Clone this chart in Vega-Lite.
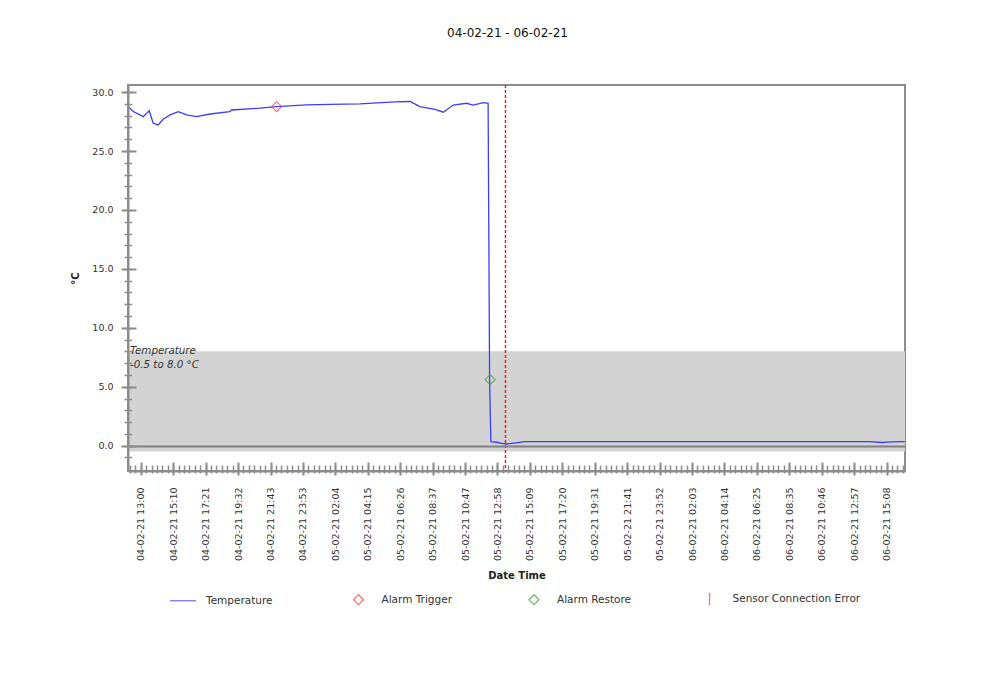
{
  "$schema": "https://vega.github.io/schema/vega-lite/v6.json",
  "width": 777,
  "height": 386,
  "autosize": {"type": "none"},
  "padding": {"left": 128, "top": 85, "right": 85, "bottom": 225},
  "background": "white",
  "title": {"text": "04-02-21 - 06-02-21", "anchor": "middle", "dx": -9, "offset": 48, "dy": 13, "baseline": "alphabetic", "fontSize": 12, "fontWeight": "normal", "font": "DejaVu Sans", "color": "#111111"},
  "datasets": {
    "band": [{"lo": -0.5, "hi": 8.0, "label": "Temperature\n-0.5 to 8.0 °C"}],
    "temperature": [
      {"t": "2021-02-04T12:09:00", "v": 28.75, "series": "Temperature"},
      {"t": "2021-02-04T12:30:00", "v": 28.35, "series": "Temperature"},
      {"t": "2021-02-04T13:10:00", "v": 27.92, "series": "Temperature"},
      {"t": "2021-02-04T13:34:00", "v": 28.42, "series": "Temperature"},
      {"t": "2021-02-04T13:50:00", "v": 27.35, "series": "Temperature"},
      {"t": "2021-02-04T14:10:00", "v": 27.21, "series": "Temperature"},
      {"t": "2021-02-04T14:30:00", "v": 27.69, "series": "Temperature"},
      {"t": "2021-02-04T14:58:00", "v": 28.06, "series": "Temperature"},
      {"t": "2021-02-04T15:31:00", "v": 28.34, "series": "Temperature"},
      {"t": "2021-02-04T16:05:00", "v": 28.06, "series": "Temperature"},
      {"t": "2021-02-04T16:45:00", "v": 27.92, "series": "Temperature"},
      {"t": "2021-02-04T17:39:00", "v": 28.14, "series": "Temperature"},
      {"t": "2021-02-04T18:59:00", "v": 28.34, "series": "Temperature"},
      {"t": "2021-02-04T19:06:00", "v": 28.48, "series": "Temperature"},
      {"t": "2021-02-04T21:01:00", "v": 28.63, "series": "Temperature"},
      {"t": "2021-02-04T22:08:00", "v": 28.76, "series": "Temperature"},
      {"t": "2021-02-05T00:09:00", "v": 28.91, "series": "Temperature"},
      {"t": "2021-02-05T01:43:00", "v": 28.95, "series": "Temperature"},
      {"t": "2021-02-05T03:44:00", "v": 29.0, "series": "Temperature"},
      {"t": "2021-02-05T06:05:00", "v": 29.16, "series": "Temperature"},
      {"t": "2021-02-05T07:06:00", "v": 29.2, "series": "Temperature"},
      {"t": "2021-02-05T07:46:00", "v": 28.76, "series": "Temperature"},
      {"t": "2021-02-05T08:47:00", "v": 28.54, "series": "Temperature"},
      {"t": "2021-02-05T09:20:00", "v": 28.29, "series": "Temperature"},
      {"t": "2021-02-05T10:00:00", "v": 28.9, "series": "Temperature"},
      {"t": "2021-02-05T10:54:00", "v": 29.05, "series": "Temperature"},
      {"t": "2021-02-05T11:21:00", "v": 28.9, "series": "Temperature"},
      {"t": "2021-02-05T12:01:00", "v": 29.1, "series": "Temperature"},
      {"t": "2021-02-05T12:21:00", "v": 29.05, "series": "Temperature"},
      {"t": "2021-02-05T12:27:00", "v": 5.57, "series": "Temperature"},
      {"t": "2021-02-05T12:32:00", "v": 0.34, "series": "Temperature"},
      {"t": "2021-02-05T12:56:00", "v": 0.29, "series": "Temperature"},
      {"t": "2021-02-05T13:16:00", "v": 0.2, "series": "Temperature"},
      {"t": "2021-02-05T13:36:00", "v": 0.14, "series": "Temperature"},
      {"t": "2021-02-05T13:56:00", "v": 0.2, "series": "Temperature"},
      {"t": "2021-02-05T14:50:00", "v": 0.34, "series": "Temperature"},
      {"t": "2021-02-05T17:00:00", "v": 0.35, "series": "Temperature"},
      {"t": "2021-02-05T20:00:00", "v": 0.35, "series": "Temperature"},
      {"t": "2021-02-05T23:00:00", "v": 0.35, "series": "Temperature"},
      {"t": "2021-02-06T02:00:00", "v": 0.35, "series": "Temperature"},
      {"t": "2021-02-06T05:00:00", "v": 0.35, "series": "Temperature"},
      {"t": "2021-02-06T08:00:00", "v": 0.35, "series": "Temperature"},
      {"t": "2021-02-06T11:00:00", "v": 0.35, "series": "Temperature"},
      {"t": "2021-02-06T14:00:00", "v": 0.35, "series": "Temperature"},
      {"t": "2021-02-06T14:50:00", "v": 0.27, "series": "Temperature"},
      {"t": "2021-02-06T15:10:00", "v": 0.3, "series": "Temperature"},
      {"t": "2021-02-06T16:00:00", "v": 0.34, "series": "Temperature"},
      {"t": "2021-02-06T16:22:00", "v": 0.34, "series": "Temperature"}
    ],
    "alarms": [
      {"t": "2021-02-04T22:08:00", "v": 28.76, "series": "Alarm Trigger"},
      {"t": "2021-02-05T12:29:00", "v": 5.6, "series": "Alarm Restore"}
    ],
    "sensor": [
      {"t": "2021-02-05T13:31:00", "series": "Sensor Connection Error"}
    ]
  },
  "layer": [
    {
      "data": {"name": "band"},
      "mark": {"type": "rect", "color": "#d3d3d3"},
      "encoding": {
        "y": {"field": "lo", "type": "quantitative", "scale": {"domain": [-2.15, 30.6], "nice": false, "zero": false},
          "axis": {"orient": "left", "values": [0, 5, 10, 15, 20, 25, 30], "format": ".1f", "ticks": false, "labelPadding": 15, "domain": true, "title": "°C", "titlePadding": 11, "zindex": 1}},
        "y2": {"field": "hi"}
      }
    },
    {
      "data": {"name": "temperature"},
      "mark": {"type": "line", "strokeWidth": 1.3},
      "encoding": {
        "x": {"field": "t", "type": "temporal",
          "scale": {"domain": [{"year": 2021, "month": 2, "date": 4, "hours": 12, "minutes": 8, "seconds": 20}, {"year": 2021, "month": 2, "date": 6, "hours": 16, "minutes": 22, "seconds": 40}], "nice": false},
          "axis": {"orient": "bottom", "values": {"expr": "sequence(datetime(2021,1,4,13,0,1,800), datetime(2021,1,6,15,9,0,0), 7847400)"}, "format": "%d-%m-%y %H:%M", "labelAngle": 270, "ticks": false, "labelPadding": 16, "labelFlush": false, "labelOverlap": false, "domain": true, "title": "Date Time", "titlePadding": 10, "zindex": 1}},
        "y": {"field": "v", "type": "quantitative", "scale": {"domain": [-2.15, 30.6], "nice": false, "zero": false},
          "axis": {"orient": "left", "values": [0, 5, 10, 15, 20, 25, 30], "labels": false, "domain": false, "ticks": true, "tickSize": 15, "offset": -8, "tickWidth": 2, "title": null, "zindex": 1}},
        "color": {"field": "series", "type": "nominal",
          "scale": {"domain": ["Temperature", "Alarm Trigger", "Alarm Restore", "Sensor Connection Error"], "range": ["#3c3cff", "#ff3c3c", "#3c9c3c", "#f03030"]},
          "legend": {"title": null}}
      }
    },
    {
      "data": {"name": "alarms"},
      "mark": {"type": "point", "filled": false, "size": 100, "strokeWidth": 1.2},
      "encoding": {
        "x": {"field": "t", "type": "temporal",
          "scale": {"domain": [{"year": 2021, "month": 2, "date": 4, "hours": 12, "minutes": 8, "seconds": 20}, {"year": 2021, "month": 2, "date": 6, "hours": 16, "minutes": 22, "seconds": 40}], "nice": false},
          "axis": {"orient": "bottom", "values": {"expr": "sequence(datetime(2021,1,4,13,0,1,800), datetime(2021,1,6,15,9,0,0), 7847400)"}, "labels": false, "domain": false, "ticks": true, "tickSize": 13, "offset": -9, "tickWidth": 2, "title": null, "zindex": 1}},
        "y": {"field": "v", "type": "quantitative", "scale": {"domain": [-2.15, 30.6], "nice": false, "zero": false},
          "axis": {"orient": "left", "values": [-1, 0, 1, 2, 3, 4, 5, 6, 7, 8, 9, 10, 11, 12, 13, 14, 15, 16, 17, 18, 19, 20, 21, 22, 23, 24, 25, 26, 27, 28, 29, 30], "labels": false, "domain": false, "ticks": true, "tickSize": 7.5, "offset": -3.5, "tickWidth": 1.5, "title": null, "zindex": 1}},
        "color": {"field": "series", "type": "nominal",
          "scale": {"domain": ["Temperature", "Alarm Trigger", "Alarm Restore", "Sensor Connection Error"], "range": ["#3c3cff", "#ff3c3c", "#3c9c3c", "#f03030"]},
          "legend": {"title": null}},
        "shape": {"field": "series", "type": "nominal",
          "scale": {"domain": ["Temperature", "Alarm Trigger", "Alarm Restore", "Sensor Connection Error"], "range": ["M-2.6,0L2.6,0", "diamond", "diamond", "M0,-1.25L0,1.25"]},
          "legend": {"title": null}}
      }
    },
    {
      "data": {"name": "sensor"},
      "mark": {"type": "rule", "strokeDash": [3, 2], "strokeWidth": 1.4, "stroke": "#ff1010", "strokeOpacity": 1},
      "encoding": {
        "x": {"field": "t", "type": "temporal",
          "scale": {"domain": [{"year": 2021, "month": 2, "date": 4, "hours": 12, "minutes": 8, "seconds": 20}, {"year": 2021, "month": 2, "date": 6, "hours": 16, "minutes": 22, "seconds": 40}], "nice": false},
          "axis": {"orient": "bottom", "values": {"expr": "sequence(datetime(2021,1,4,12,16,26,0), datetime(2021,1,6,16,20,0,0), 1307900)"}, "labels": false, "domain": false, "ticks": true, "tickSize": 8, "offset": -6, "tickWidth": 1.5, "title": null, "zindex": 1}}
      }
    },
    {
      "data": {"name": "band"},
      "mark": {"type": "text", "align": "left", "baseline": "middle", "dx": 2, "fontStyle": "italic", "fontSize": 10.3, "font": "DejaVu Sans", "lineBreak": "\n", "lineHeight": 14, "color": "#333333"},
      "encoding": {
        "x": {"datum": {"year": 2021, "month": 2, "date": 4, "hours": 12, "minutes": 8, "seconds": 20}, "type": "temporal",
          "scale": {"domain": [{"year": 2021, "month": 2, "date": 4, "hours": 12, "minutes": 8, "seconds": 20}, {"year": 2021, "month": 2, "date": 6, "hours": 16, "minutes": 22, "seconds": 40}], "nice": false},
          "axis": null},
        "y": {"field": "hi", "type": "quantitative", "scale": {"domain": [-2.15, 30.6], "nice": false, "zero": false},
          "axis": {"orient": "left", "values": [0], "labels": false, "domain": false, "ticks": false, "grid": true, "gridColor": "#808080", "gridWidth": 2, "gridOpacity": 1, "title": null, "zindex": 1}},
        "text": {"field": "label", "type": "nominal"}
      }
    }
  ],
  "resolve": {"axis": {"x": "independent", "y": "independent"}},
  "config": {
    "view": {"stroke": "#8c8c8c", "strokeWidth": 2},
    "font": "DejaVu Sans",
    "axis": {"labelFont": "DejaVu Sans", "labelFontSize": 9.5, "labelColor": "#333333", "titleFont": "DejaVu Sans", "titleFontSize": 10, "titleFontWeight": "bold", "titleColor": "#222222", "tickColor": "#8c8c8c", "domainColor": "#8c8c8c", "domainWidth": 2, "grid": false},
    "legend": {"orient": "none", "legendX": 49, "legendY": 508, "direction": "horizontal", "gridAlign": "all", "columnPadding": 16.5, "symbolSize": 100, "symbolStrokeWidth": 1.3, "symbolFillColor": "transparent", "labelOffset": 17, "labelFont": "DejaVu Sans", "labelFontSize": 10.5, "labelColor": "#333333", "padding": 0}
  }
}
